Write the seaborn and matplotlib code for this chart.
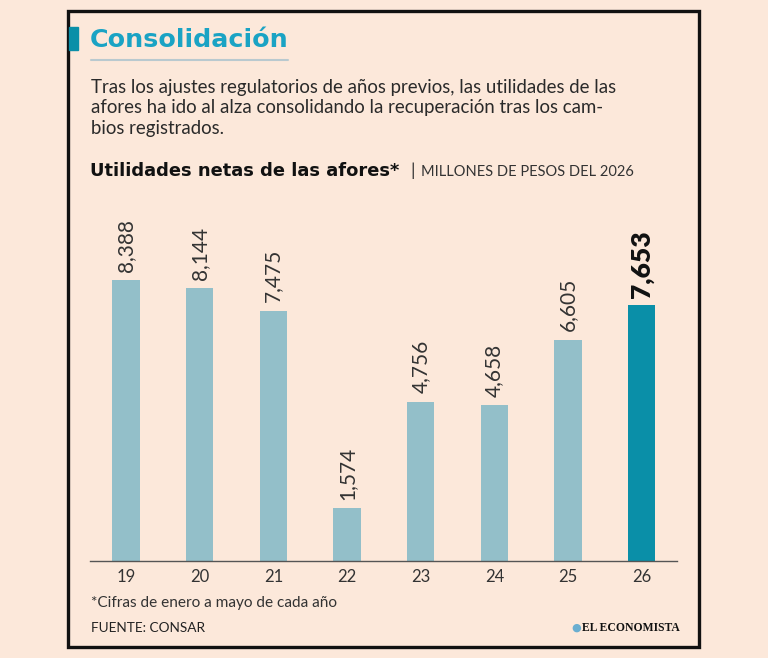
import matplotlib
matplotlib.use("Agg")
import matplotlib.pyplot as plt
import matplotlib.patches as patches
import seaborn as sns
import pandas as pd

years = ["19", "20", "21", "22", "23", "24", "25", "26"]
utilidades = [8388, 8144, 7475, 1574, 4756, 4658, 6605, 7653]
bar_colors = ["#93bfc9"] * 7 + ["#0a8fa8"]

bg = "#fce8da"
W, H = 768, 658

sns.set_theme(style="white")
plt.rcParams["font.family"] = ["Lato", "DejaVu Sans"]

fig = plt.figure(figsize=(W / 100, H / 100), dpi=100, facecolor=bg)


def fx(px):
    return px / W


def fy(py):
    return 1 - py / H


# marco
fig.patches.append(patches.Rectangle((fx(68), fy(647)), fx(699) - fx(68), fy(11) - fy(647),
                                     transform=fig.transFigure, fill=False, lw=2.4,
                                     edgecolor="#111111", zorder=5))
fig.patches.append(patches.Rectangle((fx(69), fy(50)), fx(78) - fx(69), fy(27) - fy(50),
                                     transform=fig.transFigure, color="#0a8fa8", zorder=5))
fig.add_artist(plt.Line2D([fx(91), fx(288)], [fy(60), fy(60)], transform=fig.transFigure,
                          color="#b9c9cf", lw=1.5))

fig.text(fx(90), fy(40), "Consolidación", fontsize=18.3, fontweight="bold", color="#1aa3c4",
         va="center", ha="left", family=["DejaVu Sans"])
fig.text(fx(91), fy(108),
         "Tras los ajustes regulatorios de años previos, las utilidades de las\n"
         "afores ha ido al alza consolidando la recuperación tras los cam-\n"
         "bios registrados.",
         fontsize=13.4, color="#2a2a2a", va="center", ha="left", linespacing=1.28)
fig.text(fx(90), fy(171), "Utilidades netas de las afores*", fontsize=12.9,
         fontweight="bold", color="#111111", va="center", ha="left",
         family=["DejaVu Sans"])
fig.text(fx(410), fy(171), "|", fontsize=13, color="#333333", va="center", ha="left")
fig.text(fx(421), fy(172), "MILLONES DE PESOS DEL 2026", fontsize=10.5, color="#333333",
         va="center", ha="left")

ax = fig.add_axes([fx(90), fy(561), fx(677) - fx(90), fy(195) - fy(561)])
ax.set_facecolor(bg)

df = pd.DataFrame({"anio": years, "utilidades": utilidades})
sns.barplot(data=df, x="anio", y="utilidades", hue="anio", palette=bar_colors,
            width=0.37, legend=False, ax=ax, saturation=1, linewidth=0,
            edgecolor="none")

ax.set_xlim(-0.49, 7.48)
ax.set_ylim(0, 10925)
ax.set_xlabel("")
ax.set_ylabel("")
ax.set_yticks([])
ax.tick_params(axis="x", length=0, pad=6, labelsize=12, labelcolor="#333333")
for s in ["top", "left", "right"]:
    ax.spines[s].set_visible(False)
ax.spines["bottom"].set_color("#555555")
ax.spines["bottom"].set_linewidth(1)

for i, bars in enumerate(ax.containers):
    last = i == len(ax.containers) - 1
    ax.bar_label(bars, labels=[f"{v:,.0f}" for v in bars.datavalues], rotation=90,
                 padding=5 if last else 6, fontsize=19 if last else 15,
                 fontweight="heavy" if last else "normal",
                 color="#111111" if last else "#333333")

fig.text(fx(91), fy(603), "*Cifras de enero a mayo de cada año", fontsize=11.1,
         color="#333333", va="center", ha="left")
fig.text(fx(91), fy(628), "FUENTE: CONSAR", fontsize=9.8, color="#222222",
         va="center", ha="left")
fig.text(fx(571), fy(628), "●", fontsize=8, color="#6aaed0", va="center", ha="left",
         family=["DejaVu Sans"])
fig.text(fx(582), fy(628), "EL ECONOMISTA", fontsize=8.4, fontweight="bold",
         color="#111111", va="center", ha="left", family=["Liberation Serif"])

fig.savefig("out.png", dpi=100, facecolor=bg)
